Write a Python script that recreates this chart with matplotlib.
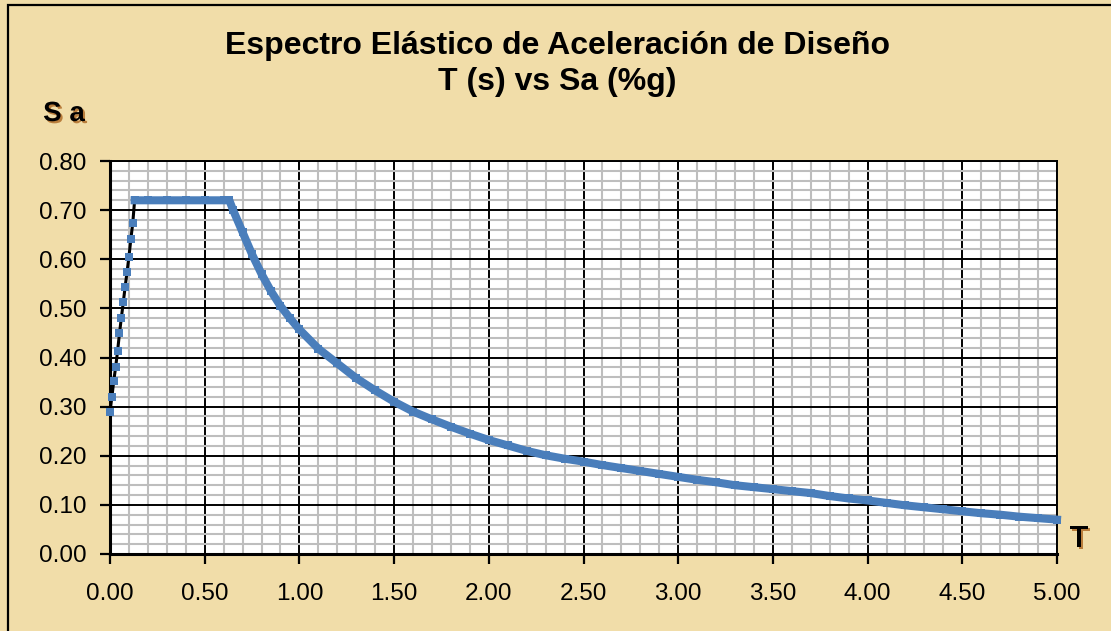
import matplotlib.pyplot as plt
import matplotlib.patheffects as pe
from matplotlib.patches import Rectangle
from matplotlib.ticker import MultipleLocator

# Rising branch (T < T0)
t_rise = [0.00, 0.01, 0.02, 0.03, 0.04, 0.05, 0.06, 0.07, 0.08, 0.09, 0.10, 0.11, 0.12]
sa_rise = [0.29, 0.32, 0.353, 0.381, 0.413, 0.449, 0.481, 0.512, 0.544, 0.574, 0.605, 0.641, 0.673]

# Plateau and descending branch
t_main = [0.13, 0.20, 0.30, 0.40, 0.50, 0.60, 0.63, 0.65, 0.70, 0.75, 0.80, 0.85, 0.90, 0.95,
          1.00, 1.10, 1.20, 1.30, 1.40, 1.50, 1.60, 1.70, 1.80, 1.90, 2.00, 2.10, 2.20,
          2.30, 2.40, 2.50, 2.60, 2.70, 2.80, 2.90, 3.00, 3.10, 3.20, 3.30, 3.40, 3.50,
          3.60, 3.70, 3.80, 3.90, 4.00, 4.10, 4.20, 4.30, 4.40, 4.50, 4.60, 4.70, 4.80,
          4.90, 5.00]
sa_main = [0.72, 0.72, 0.72, 0.72, 0.72, 0.72, 0.72, 0.70, 0.655, 0.61, 0.57, 0.535, 0.505, 0.48,
           0.457, 0.418, 0.388, 0.358, 0.333, 0.310, 0.290, 0.274, 0.259, 0.245, 0.232, 0.221, 0.210,
           0.201, 0.194, 0.188, 0.181, 0.175, 0.169, 0.163, 0.157, 0.151, 0.146, 0.140, 0.136, 0.132,
           0.128, 0.124, 0.118, 0.113, 0.109, 0.104, 0.099, 0.095, 0.091, 0.087, 0.083, 0.080, 0.076,
           0.073, 0.070]

x_ticks = [0.0, 0.5, 1.0, 1.5, 2.0, 2.5, 3.0, 3.5, 4.0, 4.5, 5.0]
y_ticks = [0.0, 0.1, 0.2, 0.3, 0.4, 0.5, 0.6, 0.7, 0.8]

title = "Espectro Elástico de Aceleración de Diseño\nT (s) vs Sa (%g)"

paper = "#F1DDA9"
blue = "#4A7EBB"
font = ["Liberation Sans", "DejaVu Sans"]

plt.rcParams["font.family"] = font

fig = plt.figure(figsize=(11.11, 6.31), dpi=100, facecolor=paper)
ax = fig.add_axes([110 / 1111, 77 / 631, 947 / 1111, 393 / 631])
ax.set_facecolor("white")

# outer frame (runs off the right and bottom edges)
fig.patches.append(Rectangle((8 / 1111, -0.05), 1.2, (626 + 32) / 631,
                             transform=fig.transFigure, fill=False,
                             edgecolor="black", linewidth=1.6, zorder=0))

t_all = t_rise + t_main
sa_all = sa_rise + sa_main
ax.plot(t_all, sa_all, color="black", linewidth=2.2, zorder=3, clip_on=False)
ax.plot(t_main, sa_main, color=blue, linewidth=5.8, solid_capstyle="projecting",
        solid_joinstyle="miter", zorder=4, clip_on=False)
ax.plot(t_all, sa_all, linestyle="none", marker="s", markersize=6.0,
        color=blue, markeredgewidth=0, zorder=5, clip_on=False)

ax.set_xlim(0, 5)
ax.set_ylim(0, 0.8)
ax.set_xticks(x_ticks)
ax.set_yticks(y_ticks)
ax.set_xticklabels([f"{v:.2f}" for v in x_ticks])
ax.set_yticklabels([f"{v:.2f}" for v in y_ticks])
ax.xaxis.set_minor_locator(MultipleLocator(0.1))
ax.yaxis.set_minor_locator(MultipleLocator(0.02))

ax.grid(which="minor", color="#BEBEBE", linewidth=1.5, zorder=1)
ax.grid(which="major", color="black", linewidth=1.4, zorder=2)
ax.set_axisbelow(True)

ax.tick_params(which="major", direction="out", length=7, width=1.6, labelsize=17.5,
               colors="black", pad=14)
ax.tick_params(axis="y", pad=10)
ax.tick_params(which="minor", length=0)
for side in ("left", "bottom"):
    ax.spines[side].set_linewidth(2.2)
for side in ("top", "right"):
    ax.spines[side].set_linewidth(1.4)

fig.text(0.502, 1 - 64 / 631, title, ha="center", va="center", fontsize=23,
         fontweight="bold", linespacing=1.25)

shadow = [pe.withSimplePatchShadow(offset=(1.5, -1.5), shadow_rgbFace="#A85E18", alpha=0.75)]
fig.text(64 / 1111, 1 - 114 / 631, "S a", ha="center", va="center", fontsize=20,
         fontweight="bold", path_effects=shadow)
fig.text(1079 / 1111, 1 - 539 / 631, "T", ha="center", va="center", fontsize=22,
         fontweight="bold", path_effects=shadow)

fig.savefig("out.png", dpi=100, facecolor=paper)
